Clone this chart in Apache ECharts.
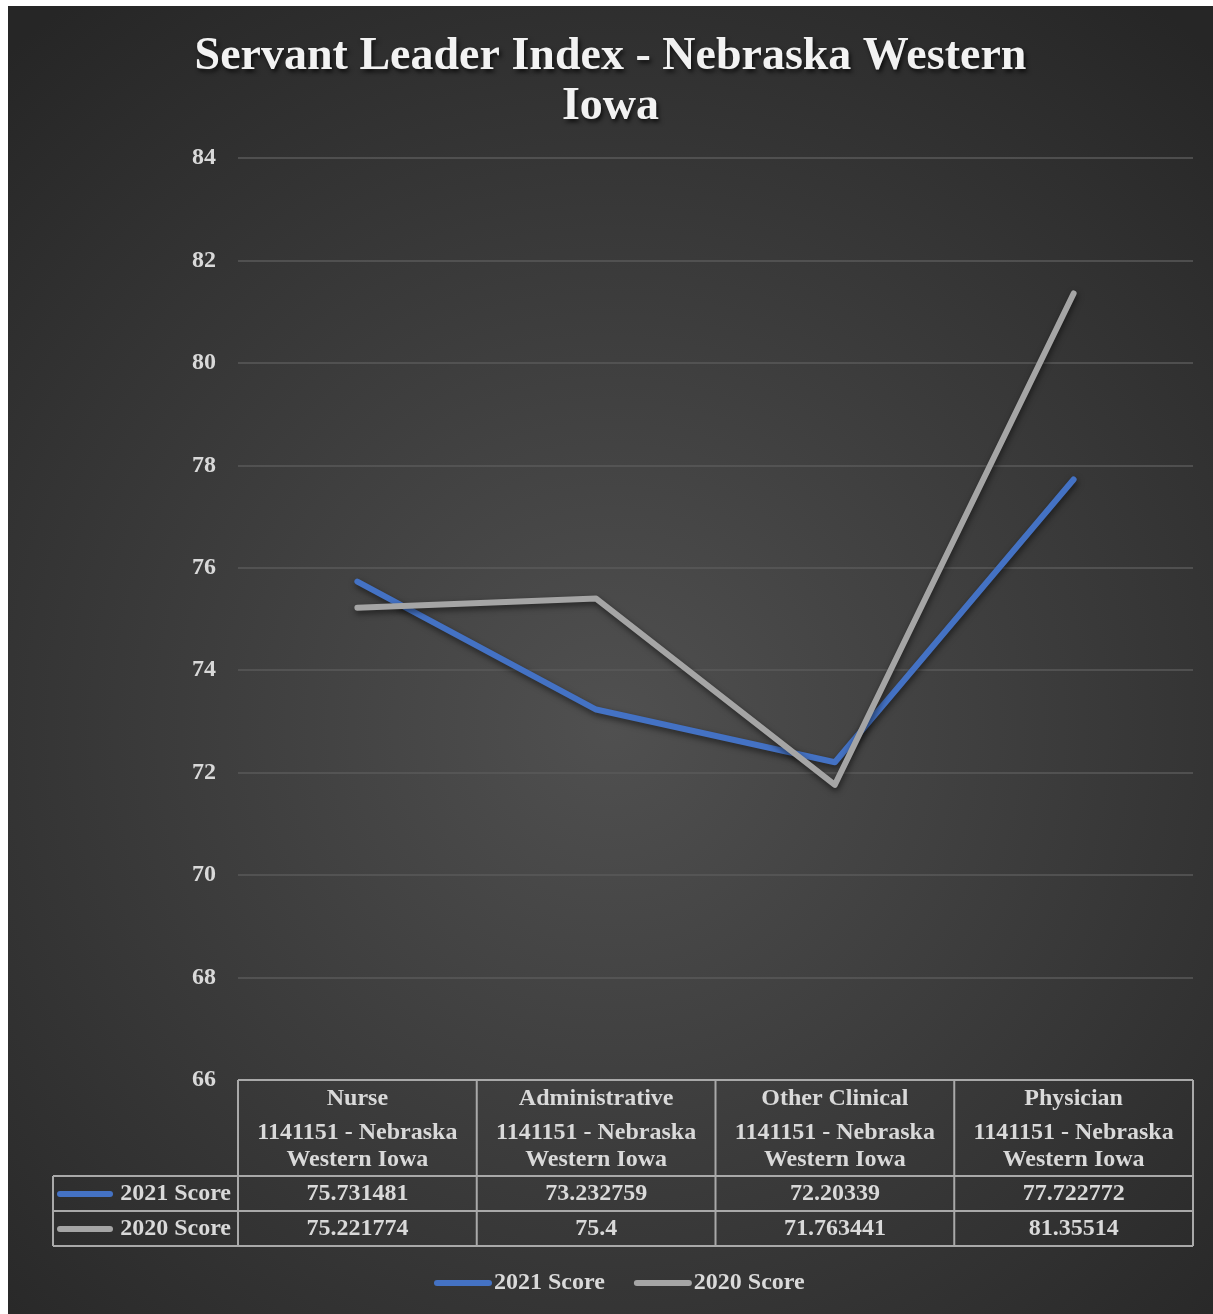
<!DOCTYPE html>
<html>
<head>
<meta charset="utf-8">
<script src="https://cdn.jsdelivr.net/npm/echarts@6/dist/echarts.min.js"></script>
<style>
  html, body { margin: 0; padding: 0; background: #ffffff; }
  #chart { position: absolute; left: 8px; top: 6px; width: 1205px; height: 1308px; }
</style>
</head>
<body>
<div id="chart"></div>
<script>
// Job categories shown along the x axis
const categories = ['Nurse', 'Administrative', 'Other Clinical', 'Physician'];
// Second header line for every category column
const groupLabel = ['1141151 - Nebraska', 'Western Iowa'];
// Series names
const seriesNames = ['2021 Score', '2020 Score'];
// Scores per category
const score2021 = [75.731481, 73.232759, 72.20339, 77.722772];
const score2020 = [75.221774, 75.4, 71.763441, 81.35514];
// Value axis ticks
const yMin = 66, yMax = 84, yStep = 2;

const seriesColors = ['#4472C4', '#A5A5A5'];
const seriesData = [score2021, score2020];
const textColor = '#d9d9d9';
const font = 'Liberation Serif, Times New Roman, serif';
const borderColor = '#a9a9a9';

const chart = echarts.init(document.getElementById('chart'));

const baseOption = {
  backgroundColor: {
    type: 'radial', x: 0.5, y: 0.55, r: 0.75,
    colorStops: [
      { offset: 0, color: '#505050' },
      { offset: 1, color: '#262626' }
    ]
  },
  title: {
    text: 'Servant Leader Index - Nebraska Western\nIowa',
    left: 'center',
    top: 21,
    textStyle: {
      color: '#f2f2f2',
      fontFamily: font,
      fontWeight: 'bold',
      fontSize: 46,
      lineHeight: 50,
      textShadowColor: 'rgba(0,0,0,0.7)',
      textShadowBlur: 4,
      textShadowOffsetX: 2,
      textShadowOffsetY: 3
    }
  },
  legend: {
    data: seriesNames,
    bottom: 14,
    left: 421,
    itemWidth: 58,
    itemHeight: 6,
    itemGap: 29,
    icon: 'path://M3,0 L55,0 A3,3 0 0 1 55,6 L3,6 A3,3 0 0 1 3,0 Z',
    textStyle: { color: textColor, fontFamily: font, fontWeight: 'bold', fontSize: 24, padding: [0, 0, 0, -3] }
  },
  grid: { left: 230, right: 20, top: 152, bottom: 234, containLabel: false },
  xAxis: {
    type: 'category',
    data: categories,
    boundaryGap: true,
    axisLine: { show: false },
    axisTick: { show: false },
    splitLine: { show: false },
    axisLabel: {
      interval: 0,
      margin: -1,
      formatter: function (v) {
        return '{a|' + v + '}\n{b|' + groupLabel[0] + '}\n{b|' + groupLabel[1] + '}';
      },
      rich: {
        a: { color: textColor, fontFamily: font, fontWeight: 'bold', fontSize: 24, lineHeight: 40 },
        b: { color: textColor, fontFamily: font, fontWeight: 'bold', fontSize: 24, lineHeight: 27 }
      }
    }
  },
  yAxis: {
    type: 'value',
    min: yMin,
    max: yMax,
    interval: yStep,
    axisLine: { show: false },
    axisTick: { show: false },
    axisLabel: { color: textColor, fontFamily: font, fontWeight: 'bold', fontSize: 24, margin: 22 },
    splitLine: { lineStyle: { color: '#5a5a5a', width: 1.5 } }
  },
  series: seriesNames.map(function (name, i) {
    return {
      name: name,
      type: 'line',
      data: seriesData[i],
      symbol: 'none',
      showSymbol: false,
      color: seriesColors[i],
      lineStyle: {
        color: seriesColors[i],
        width: 6,
        cap: 'round',
        join: 'round',
        shadowColor: 'rgba(0,0,0,0.55)',
        shadowBlur: 6,
        shadowOffsetX: 1,
        shadowOffsetY: 3
      },
      emphasis: { disabled: true },
      animation: false
    };
  }),
  animation: false
};

chart.setOption(baseOption);

// Data table under the plot, laid out on the category axis geometry
function buildTable() {
  const cx = categories.map(function (c, i) { return chart.convertToPixel({ xAxisIndex: 0 }, i); });
  const cw = cx[1] - cx[0];
  const x0 = cx[0] - cw / 2;
  const x1 = cx[cx.length - 1] + cw / 2;
  const yTop = chart.convertToPixel({ yAxisIndex: 0 }, yMin);
  const headerH = 96, rowH = 35;
  const keyLeft = 45;
  const r1 = yTop + headerH;
  const rowTops = [r1, r1 + rowH];
  const yBottom = r1 + 2 * rowH;

  const els = [];
  const line = function (xa, ya, xb, yb) {
    els.push({
      type: 'line', silent: true,
      shape: { x1: xa, y1: ya, x2: xb, y2: yb },
      style: { stroke: borderColor, lineWidth: 2 }
    });
  };
  // header top border and column dividers
  line(x0, yTop, x1, yTop);
  for (let i = 0; i <= categories.length; i++) {
    const x = x0 + i * cw;
    line(x, yTop, x, yBottom);
  }
  // row borders including the key column
  line(keyLeft, r1, x1, r1);
  line(keyLeft, r1 + rowH, x1, r1 + rowH);
  line(keyLeft, yBottom, x1, yBottom);
  line(keyLeft, r1, keyLeft, yBottom);

  seriesNames.forEach(function (name, s) {
    const yc = rowTops[s] + rowH / 2 + 0.5;
    // series key
    els.push({
      type: 'line', silent: true,
      shape: { x1: keyLeft + 7, y1: yc, x2: keyLeft + 57, y2: yc },
      style: { stroke: seriesColors[s], lineWidth: 6, lineCap: 'round' }
    });
    els.push({
      type: 'text', silent: true,
      x: x0 - 7, y: yc,
      style: {
        text: name, fill: textColor, align: 'right', verticalAlign: 'middle',
        font: 'bold 24px ' + font
      }
    });
    seriesData[s].forEach(function (v, i) {
      els.push({
        type: 'text', silent: true,
        x: cx[i], y: yc,
        style: {
          text: String(v), fill: textColor, align: 'center', verticalAlign: 'middle',
          font: 'bold 24px ' + font
        }
      });
    });
  });

  chart.setOption({ graphic: { elements: els } });
}
buildTable();
</script>
</body>
</html>
